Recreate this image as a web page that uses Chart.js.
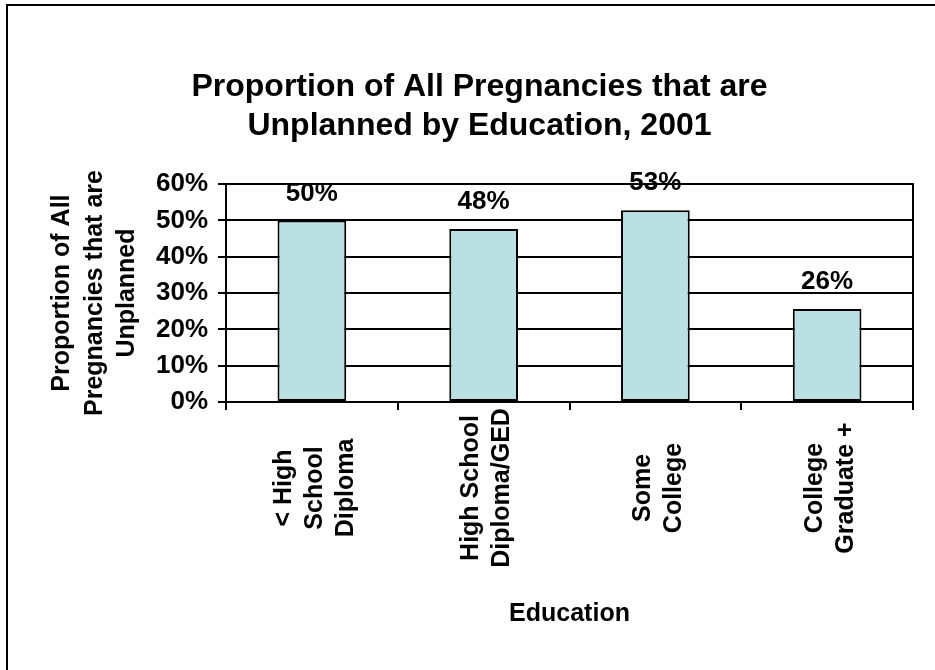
<!DOCTYPE html>
<html lang="en">
<head>
  <meta charset="utf-8">
  <title>Unplanned Pregnancies by Education, 2001</title>
  <script src="https://cdn.jsdelivr.net/npm/chart.js"></script>
  <style>
    body {
      margin: 0;
      background: white;
    }
    #wrap {
      position: relative;
      width: 935px;
      height: 670px;
    }
    #frame {
      position: absolute;
      left: 6px;
      top: 4px;
      right: 0;
      bottom: 0;
      border-top: 2px solid #000;
      border-left: 2px solid #000;
      pointer-events: none;
    }
  </style>
</head>
<body>
<div id="wrap">
  <canvas id="eduChart" width="935" height="670"></canvas>
  <div id="frame"></div>
</div>

<script>
  // data
  const categories = [
    ['< High', 'School', 'Diploma'],
    ['High School', 'Diploma/GED'],
    ['Some', 'College'],
    ['College', 'Graduate +']
  ];
  const unplanned = [50.0, 47.6, 52.8, 25.6];
  const yTicks = [0, 10, 20, 30, 40, 50, 60];

  const fontFam = '"Liberation Sans", Arial, Helvetica, sans-serif';

  // data labels above the bars
  const valueLabels = {
    id: 'valueLabels',
    afterDatasetsDraw(chart) {
      const ctx = chart.ctx;
      const meta = chart.getDatasetMeta(0);
      ctx.save();
      ctx.font = 'bold 26px ' + fontFam;
      ctx.fillStyle = '#000';
      ctx.textAlign = 'center';
      ctx.textBaseline = 'middle';
      meta.data.forEach((bar, i) => {
        ctx.fillText(Math.round(unplanned[i]) + '%', bar.x, bar.y - 27);
      });
      ctx.restore();
    }
  };

  // right side of the plot frame + rotated category labels
  const extras = {
    id: 'extras',
    afterDraw(chart) {
      const ctx = chart.ctx;
      const area = chart.chartArea;
      const xs = chart.scales.x;
      ctx.save();
      ctx.strokeStyle = '#000';
      ctx.lineWidth = 2;
      ctx.beginPath();
      ctx.moveTo(area.right, area.top - 1);
      ctx.lineTo(area.right, area.bottom + 8);
      ctx.stroke();

      ctx.font = 'bold 25px ' + fontFam;
      ctx.fillStyle = '#000';
      ctx.textAlign = 'center';
      ctx.textBaseline = 'middle';
      const lineH = 31;
      const midY = area.bottom + 86;
      categories.forEach((lines, i) => {
        const cx = xs.getPixelForValue(i) + 3;
        lines.forEach((txt, j) => {
          const lx = cx + (j - (lines.length - 1) / 2) * lineH;
          ctx.save();
          ctx.translate(lx, midY);
          ctx.rotate(-Math.PI / 2);
          ctx.fillText(txt, 0, 0);
          ctx.restore();
        });
      });
      ctx.restore();
    }
  };

  const ctx = document.getElementById('eduChart').getContext('2d');
  const chart = new Chart(ctx, {
    type: 'bar',
    data: {
      labels: categories,
      datasets: [{
        data: unplanned,
        backgroundColor: '#BAE0E3',
        borderColor: '#000',
        borderWidth: 2,
        borderSkipped: false,
        categoryPercentage: 1,
        barPercentage: 0.4
      }]
    },
    options: {
      responsive: false,
      animation: false,
      layout: {
        padding: { left: 46, right: 22, top: 0, bottom: 0 }
      },
      plugins: {
        legend: { display: false },
        tooltip: { enabled: false },
        title: {
          display: true,
          text: ['Proportion of All Pregnancies that are', 'Unplanned by Education, 2001'],
          color: '#000',
          font: { family: fontFam, size: 32, weight: 'bold', lineHeight: 1.22 },
          padding: { top: 68, bottom: 38 }
        }
      },
      scales: {
        x: {
          offset: true,
          grid: {
            drawOnChartArea: false,
            drawTicks: true,
            tickLength: 8,
            color: '#000',
            lineWidth: 2
          },
          border: { display: true, color: '#000', width: 2 },
          ticks: { display: false },
          title: {
            display: true,
            text: 'Education',
            color: '#000',
            font: { family: fontFam, size: 25, weight: 'bold', lineHeight: 1.2 },
            padding: { top: 0, bottom: 41 }
          },
          afterFit(scale) {
            scale.height = 268;
          }
        },
        y: {
          min: 0,
          max: 60,
          afterBuildTicks(scale) {
            scale.ticks = yTicks.map(v => ({ value: v }));
          },
          grid: {
            color: '#000',
            lineWidth: 2,
            drawTicks: true,
            tickLength: 8
          },
          border: { display: true, color: '#000', width: 2 },
          ticks: {
            color: '#000',
            padding: 10,
            font: { family: fontFam, size: 26, weight: 'bold' },
            callback: v => v + '%'
          },
          title: {
            display: true,
            text: ['Proportion of All', 'Pregnancies that are', 'Unplanned'],
            color: '#000',
            font: { family: fontFam, size: 25, weight: 'bold', lineHeight: 1.3 },
            padding: { top: 0, bottom: 0 }
          },
          afterFit(scale) {
            scale.width = 180;
          }
        }
      }
    },
    plugins: [valueLabels, extras]
  });
</script>
</body>
</html>
